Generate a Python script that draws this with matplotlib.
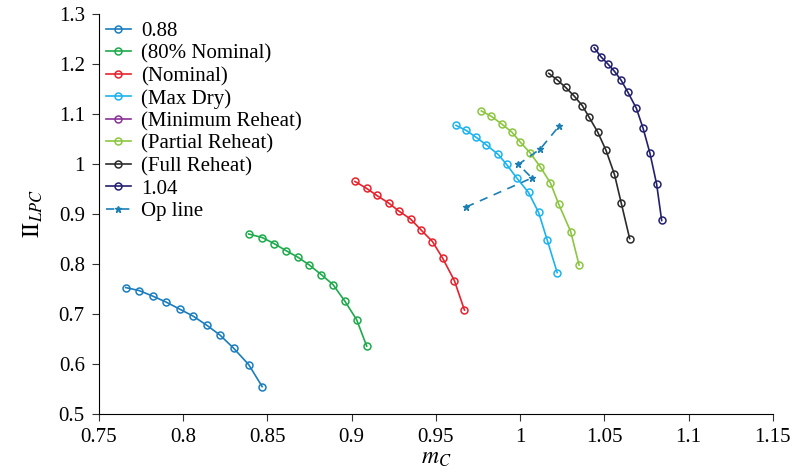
import matplotlib
matplotlib.use('Agg')
from matplotlib import pyplot as plt

plt.rcParams['font.family'] = 'Liberation Serif'
plt.rcParams['mathtext.fontset'] = 'stix'
plt.rc('xtick', labelsize=15)
plt.rc('ytick', labelsize=15)
plt.rc('font', size=15)

# speed lines (mass flow m_C, pressure ratio)
m_088 = [0.766, 0.774, 0.782, 0.790, 0.798, 0.806, 0.814, 0.822, 0.830, 0.839, 0.847]
p_088 = [0.753, 0.747, 0.736, 0.724, 0.710, 0.696, 0.678, 0.658, 0.632, 0.599, 0.555]

m_80 = [0.839, 0.847, 0.854, 0.861, 0.868, 0.875, 0.882, 0.889, 0.896, 0.903, 0.909]
p_80 = [0.860, 0.853, 0.841, 0.827, 0.814, 0.798, 0.779, 0.759, 0.726, 0.689, 0.636]

m_nom = [0.902, 0.909, 0.915, 0.922, 0.928, 0.935, 0.941, 0.948, 0.954, 0.961, 0.967]
p_nom = [0.965, 0.951, 0.937, 0.922, 0.906, 0.890, 0.869, 0.845, 0.812, 0.767, 0.708]

m_dry = [0.962, 0.968, 0.974, 0.980, 0.987, 0.992, 0.998, 1.005, 1.011, 1.016, 1.022]
p_dry = [1.077, 1.067, 1.053, 1.038, 1.019, 0.999, 0.972, 0.943, 0.903, 0.849, 0.783]

m_min = []
p_min = []

m_part = [0.977, 0.983, 0.989, 0.995, 1.000, 1.006, 1.012, 1.018, 1.023, 1.030, 1.035]
p_part = [1.106, 1.095, 1.080, 1.064, 1.044, 1.022, 0.994, 0.962, 0.919, 0.865, 0.798]

m_full = [1.017, 1.022, 1.027, 1.032, 1.037, 1.041, 1.046, 1.051, 1.056, 1.060, 1.065]
p_full = [1.181, 1.168, 1.153, 1.136, 1.116, 1.093, 1.064, 1.027, 0.979, 0.922, 0.851]

m_104 = [1.044, 1.048, 1.052, 1.056, 1.060, 1.064, 1.069, 1.073, 1.077, 1.081, 1.084]
p_104 = [1.232, 1.214, 1.200, 1.185, 1.167, 1.143, 1.111, 1.071, 1.022, 0.960, 0.887]

m_op = [0.968, 1.007, 0.999, 1.012, 1.023]
p_op = [0.914, 0.972, 0.999, 1.030, 1.075]

series = [
    (m_088, p_088, '0.88', '#1a7dbd'),
    (m_80, p_80, '(80% Nominal)', '#1daa4b'),
    (m_nom, p_nom, '(Nominal)', '#e8222c'),
    (m_dry, p_dry, '(Max Dry)', '#1cb3ee'),
    (m_min, p_min, '(Minimum Reheat)', '#8a3196'),
    (m_part, p_part, '(Partial Reheat)', '#8cc640'),
    (m_full, p_full, '(Full Reheat)', '#2b2b2b'),
    (m_104, p_104, '1.04', '#23206e'),
]

fig, ax = plt.subplots(figsize=(7.96, 4.75), dpi=100)
fig.subplots_adjust(left=0.124, right=0.971, top=0.971, bottom=0.128)

for m, p, lab, c in series:
    ax.plot(m, p, '-o', color=c, lw=1.2, ms=5, mfc='none', mew=1.1, label=lab)
ax.plot(m_op, p_op, '--', marker='*', color='#1a7fb5', lw=1.2, ms=5,
        dashes=(5, 4), label='Op line')

ax.set_xlim(0.75, 1.15)
ax.set_ylim(0.5, 1.3)
ax.set_xticks([0.75, 0.8, 0.85, 0.9, 0.95, 1, 1.05, 1.1, 1.15])
ax.set_xticklabels(['0.75', '0.8', '0.85', '0.9', '0.95', '1', '1.05', '1.1', '1.15'])
ax.set_yticks([0.5, 0.6, 0.7, 0.8, 0.9, 1, 1.1, 1.2, 1.3])
ax.set_yticklabels(['0.5', '0.6', '0.7', '0.8', '0.9', '1', '1.1', '1.2', '1.3'])
ax.spines['top'].set_visible(False)
ax.spines['right'].set_visible(False)
ax.tick_params(direction='out', length=5, color='#333333', pad=5)
ax.set_xlabel(r'$m_C$', fontsize=17, labelpad=1)
ax.set_ylabel(r'$\mathrm{II}_{LPC}$', fontsize=17, labelpad=10)

ax.legend(loc='upper left', bbox_to_anchor=(-0.008, 1.012), frameon=False,
          handlelength=1.2, labelspacing=0.14, handletextpad=0.5,
          borderaxespad=0.2, fontsize=15)

plt.savefig('out.png', dpi=100)
